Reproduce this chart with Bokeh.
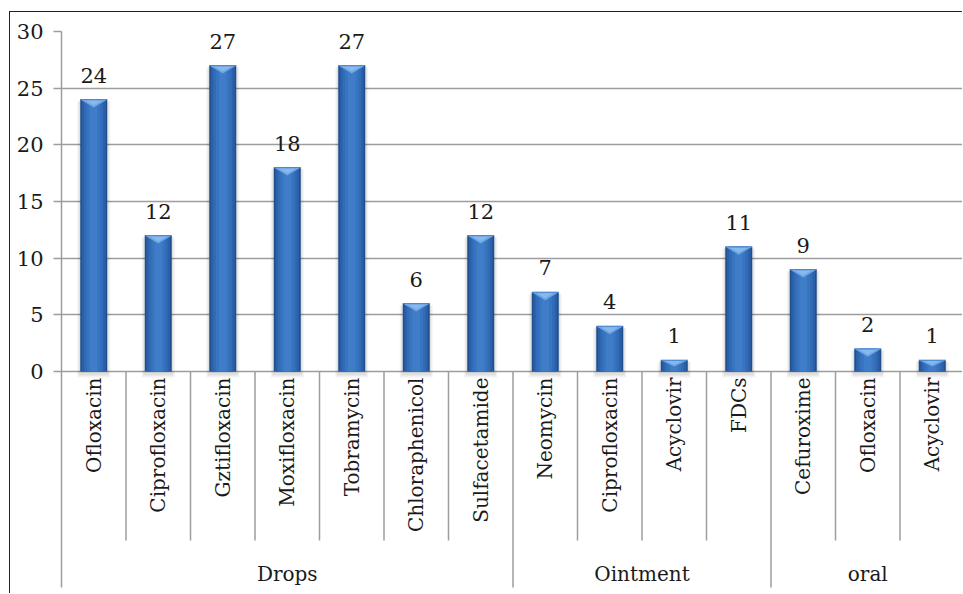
import numpy as np
from bokeh.plotting import figure
from bokeh.models import Range1d, FixedTicker
from bokeh.core.properties import value
from bokeh.embed import file_html
from bokeh.resources import INLINE

# ---------------- data ----------------
groups = ["Drops", "Ointment", "oral"]
drops_names = ["Ofloxacin", "Ciprofloxacin", "Gztifloxacin", "Moxifloxacin",
               "Tobramycin", "Chloraphenicol", "Sulfacetamide"]
drops_values = [24, 12, 27, 18, 27, 6, 12]
ointment_names = ["Neomycin", "Ciprofloxacin", "Acyclovir", "FDCs"]
ointment_values = [7, 4, 1, 11]
oral_names = ["Cefuroxime", "Ofloxacin", "Acyclovir"]
oral_values = [9, 2, 1]
y_ticks = [0, 5, 10, 15, 20, 25, 30]

# ---------------- layout constants ----------------
CAT_PX = 64.5            # pixel width of one category
PX_PER_UNIT = 340 / 30   # pixels per y unit
W, H = 953, 582
MB_LEFT, MB_TOP = 51, 19
FONT = "DejaVu Serif"
NUM_SIZE = "21px"
LBL_SIZE = "20px"
TXT = "#1a1a1a"
GRID = "#9d9d9f"

names = drops_names + ointment_names + oral_names
vals = np.array(drops_values + ointment_values + oral_values, dtype=float)
counts = [len(drops_names), len(ointment_names), len(oral_names)]
n = len(names)
xc = np.arange(n) + 0.5

frame_w = W - MB_LEFT
frame_h = H - MB_TOP
x_end = frame_w / CAT_PX
y_top = 30
y_bot = y_top - frame_h / PX_PER_UNIT

def px(p):  # pixels -> y data units
    return p / PX_PER_UNIT

p = figure(width=W, height=H, output_backend="svg", toolbar_location=None,
           x_range=Range1d(0, x_end), y_range=Range1d(y_bot, y_top),
           min_border_left=MB_LEFT, min_border_top=MB_TOP,
           min_border_right=0, min_border_bottom=0,
           background_fill_color="white", border_fill_color="white")
p.styles = {"margin-left": "9px", "margin-top": "11px",
            "border-left": "1px solid #222222", "border-top": "1px solid #222222"}
p.outline_line_color = None
p.xaxis.visible = False
p.xgrid.visible = False

yax = p.yaxis[0]
yax.ticker = FixedTicker(ticks=y_ticks)
yax.bounds = (y_bot + px(7), y_top)
yax.axis_line_color = GRID
yax.axis_line_width = 1.5
yax.major_tick_line_color = GRID
yax.major_tick_line_width = 1.5
yax.major_tick_out = 8
yax.major_tick_in = 0
yax.minor_tick_line_color = None
yax.major_label_standoff = 10
yax.major_label_text_font = FONT
yax.major_label_text_font_size = NUM_SIZE
yax.major_label_text_color = TXT
p.ygrid.ticker = FixedTicker(ticks=y_ticks)
p.ygrid.grid_line_color = GRID
p.ygrid.grid_line_width = 1.5

# ---- category separators ----
bounds = np.cumsum(counts)
group_edges = set(bounds.tolist())
inner = [b for b in range(1, n) if b not in group_edges]
p.segment(x0=inner, x1=inner, y0=[0] * len(inner), y1=[-px(169)] * len(inner),
          line_color=GRID, line_width=1.5)
ge = sorted(group_edges)
p.segment(x0=ge, x1=ge, y0=[0] * len(ge), y1=[-px(216)] * len(ge),
          line_color=GRID, line_width=1.5)

# ---- bars ----
bw = 27 / CAT_PX
p.vbar(x=xc, top=vals - px(2), bottom=-px(6), width=bw + 6 / CAT_PX,
       fill_color="#000000", fill_alpha=0.05, line_color=None)
p.vbar(x=xc, top=vals - px(1), bottom=-px(4), width=bw + 3 / CAT_PX,
       fill_color="#000000", fill_alpha=0.07, line_color=None)
for frac, col in [(1.0, "#214f8e"), (0.88, "#2b60a8"), (0.7, "#326bb6"),
                  (0.5, "#3875c1"), (0.28, "#3f7dc9")]:
    p.vbar(x=xc, top=vals, bottom=0, width=bw * frac,
           fill_color=col, line_color=None)

# top bevel (light triangle)
bh = np.minimum(px(8), vals * 0.55)
tri_xs = [[x - bw / 2, x + bw / 2, x] for x in xc]
tri_ys = [[v, v, v - h] for v, h in zip(vals, bh)]
p.patches(xs=tri_xs, ys=tri_ys, fill_color="#6fa6e4", line_color=None)
tri2_xs = [[x - bw * 0.3, x + bw * 0.3, x] for x in xc]
tri2_ys = [[v - h * 0.15, v - h * 0.15, v - h * 0.75] for v, h in zip(vals, bh)]
p.patches(xs=tri2_xs, ys=tri2_ys, fill_color="#86b9ee", line_color=None)
p.segment(x0=xc - bw / 2, x1=xc + bw / 2, y0=vals, y1=vals,
          line_color="#4f88cf", line_width=1)

# ---- value labels ----
p.text(x=xc, y=vals, text=[str(int(v)) for v in vals],
       text_font=value(FONT), text_font_size=NUM_SIZE, text_color=TXT,
       text_align="center", text_baseline="bottom", y_offset=-17)

# ---- category labels (rotated) ----
p.text(x=xc, y=[-px(6)] * n, text=names, angle=np.pi / 2,
       text_font=value(FONT), text_font_size=LBL_SIZE, text_color=TXT,
       text_align="right", text_baseline="middle")

# ---- group labels ----
starts = np.concatenate([[0], bounds[:-1]])
gx = (starts + bounds) / 2
p.text(x=gx, y=[-px(202)] * len(groups), text=groups,
       text_font=value(FONT), text_font_size=LBL_SIZE, text_color=TXT,
       text_align="center", text_baseline="middle")

open("out.html", "w").write(file_html(p, INLINE))
